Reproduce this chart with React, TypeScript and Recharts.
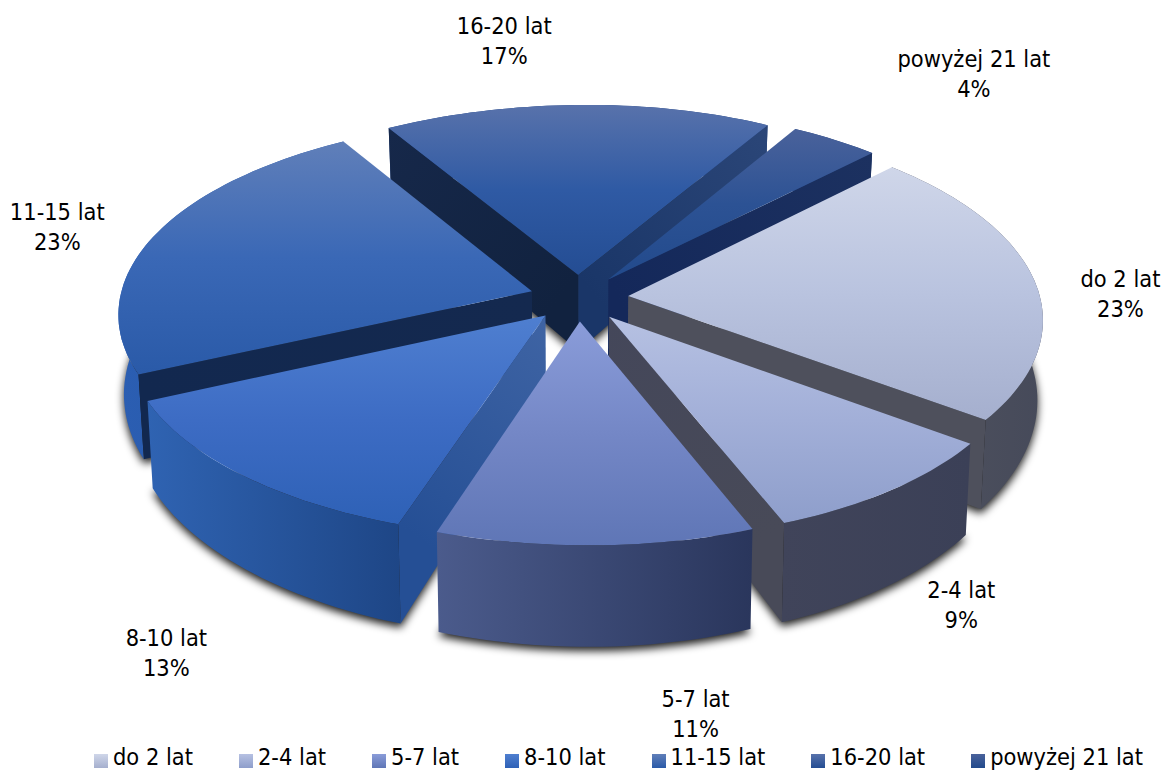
import { Legend, Pie, PieChart } from 'recharts'

const categories = ['do 2 lat', '2-4 lat', '5-7 lat', '8-10 lat', '11-15 lat', '16-20 lat', 'powyżej 21 lat']
const shares = [23, 9, 11, 13, 23, 17, 4]

// slice colours: top face (light, middle, dark), outer wall (left, right)
const topLight = ['#cfd6e9', '#b6c1e2', '#8a9cd9', '#4f7fd0', '#607fb9', '#5872ab', '#4a629b']
const topMiddle = ['#b9c3df', '#a2afd8', '#7487c6', '#3d6cc4', '#3a68b6', '#2f5aa4', '#2c5294']
const topDark = ['#a5afce', '#8e9ecb', '#5f76b6', '#2e61b6', '#2a5aa8', '#244d93', '#224a8c']
const wallLeft = ['#50535f', '#40445a', '#4b5b8c', '#2f63b2', '#2b5eb2', '#24488a', '#22427e']
const wallRight = ['#464a5a', '#3b4057', '#2a365c', '#1e4686', '#2657a8', '#1f3f7c', '#1e3a70']
// cut faces: colour at the rim and at the centre of the pie
const cutStartRim = ['#4e505c', '#3f4358', '#414f7c', '#254f95', '#12284f', '#16284a', '#1e3a70']
const cutStartCore = ['#4e505c', '#3f4358', '#414f7c', '#3f64a4', '#14294f', '#11223f', '#1e3a70']
const cutEndRim = ['#4e505c', '#484a58', '#33416b', '#2f5ea6', '#12284f', '#2b4678', '#1c3160']
const cutEndCore = ['#4e505c', '#44475a', '#33416b', '#2f5ea6', '#12284f', '#1a3668', '#14285a']

// paint order, farthest slice first
const paintOrder = [5, 6, 4, 0, 3, 1, 2]

// label centre relative to the slice's rim midpoint
const labelNudges = [[86, 12], [70, 114], [99, 168], [-75, 177], [-96, -11], [-76, -65], [139, -67]]

const pieData = categories.map((name, i) => ({ name, value: shares[i] }))

const FONT = '"DejaVu Sans Condensed", "DejaVu Sans", sans-serif'
const TILT = 0.47
const PERSPECTIVE = 0.11
const EXPLODE = 0.12
const DEPTH = 78
const BEND = 6
const RAD = Math.PI / 180

// position on the disc (z = 0 top face, z = 1 bottom face) to screen
function project(p: any, u: number, v: number, z: number) {
  const f = 1 / (1 - PERSPECTIVE * v)
  return {
    x: p.cx + p.outerRadius * u * f * (1 - 0.012 * z) + BEND * Math.abs(v * v * v),
    y: p.cy + p.outerRadius * TILT * v * f + DEPTH * z * f * f,
  }
}

function rimPoint(p: any, angle: number, radius: number, z: number) {
  const mid = p.midAngle * RAD
  const u = radius * Math.cos(angle * RAD) + EXPLODE * Math.cos(mid)
  const v = -radius * Math.sin(angle * RAD) - EXPLODE * Math.sin(mid)
  return project(p, u, v, z)
}

function arcPoints(p: any, z: number) {
  const steps = Math.max(4, Math.ceil(Math.abs(p.startAngle - p.endAngle) / 1.5))
  const pts = []
  for (let i = 0; i <= steps; i++) {
    pts.push(rimPoint(p, p.startAngle + ((p.endAngle - p.startAngle) * i) / steps, 1, z))
  }
  return pts
}

const toPath = (pts: { x: number; y: number }[]) =>
  pts.map((q, i) => `${i ? 'L' : 'M'}${q.x.toFixed(1)} ${q.y.toFixed(1)}`).join(' ') + ' Z'

function CutFace({ p, angle, id, rim, core }: any) {
  const from = rimPoint(p, angle, 0, 0)
  const to = rimPoint(p, angle, 1, 0)
  return (
    <>
      <linearGradient id={id} gradientUnits="userSpaceOnUse" x1={from.x} y1={from.y} x2={to.x} y2={to.y}>
        <stop offset="0" stopColor={core} />
        <stop offset="1" stopColor={rim} />
      </linearGradient>
      <path d={toPath([from, to, rimPoint(p, angle, 1, 1), rimPoint(p, angle, 0, 1)])} fill={`url(#${id})`} />
    </>
  )
}

function Slice3D(p: any) {
  const i = p.index
  const top = arcPoints(p, 0)
  const bottom = arcPoints(p, 1)
  // a cut face shows only when it turns towards the viewer
  const showStart = Math.cos(p.startAngle * RAD) < 0
  const showEnd = Math.cos(p.endAngle * RAD) > 0
  return (
    <g>
      <path d={toPath([...top, ...bottom.reverse()])} fill={`url(#wall${i})`} />
      {showStart && <CutFace p={p} angle={p.startAngle} id={`cutS${i}`} rim={cutStartRim[i]} core={cutStartCore[i]} />}
      {showEnd && <CutFace p={p} angle={p.endAngle} id={`cutE${i}`} rim={cutEndRim[i]} core={cutEndCore[i]} />}
      <path d={toPath([rimPoint(p, 0, 0, 0), ...top])} fill={`url(#top${i})`} />
    </g>
  )
}

// soft shadow of the slice's bottom face, painted under everything
function SliceShadow(p: any) {
  return (
    <path
      d={toPath([rimPoint(p, 0, 0, 1), ...arcPoints(p, 1)])}
      fill="#000"
      fillOpacity={0.9}
      filter="url(#floorBlur)"
      transform="translate(0 4)"
    />
  )
}

function renderLabel(p: any) {
  const [dx, dy] = labelNudges[p.index]
  const rim = rimPoint(p, p.midAngle, 1, 0)
  const x = rim.x + dx
  const y = rim.y + dy
  return (
    <text x={x} y={y} textAnchor="middle" fontFamily={FONT} fontSize={23.4} fill="#000">
      <tspan x={x} dy={-6}>{categories[p.index]}</tspan>
      <tspan x={x} dy={30}>{`${shares[p.index]}%`}</tspan>
    </text>
  )
}

function LegendRow() {
  return (
    <div style={{ display: 'flex', fontFamily: FONT, fontSize: 23.4, lineHeight: '22px', color: '#000', whiteSpace: 'nowrap' }}>
      {categories.map((name, i) => (
        <div key={name} style={{ display: 'flex', alignItems: 'center', marginRight: i < categories.length - 1 ? 46 : 0 }}>
          <span
            style={{
              width: 14,
              height: 14,
              marginRight: 5,
              marginTop: 8,
              background: `linear-gradient(${topLight[i]}, ${topDark[i]})`,
            }}
          />
          {name}
        </div>
      ))}
    </div>
  )
}

export default function App() {
  const pieProps = {
    data: pieData,
    dataKey: 'value',
    nameKey: 'name',
    cx: 579,
    cy: 298,
    outerRadius: 412,
    startAngle: 46,
    endAngle: -314,
    paddingAngle: 0,
    stroke: 'none',
    labelLine: false,
    isAnimationActive: false,
  }
  return (
    <div style={{ position: 'absolute', left: 0, top: 0, width: 1165, height: 771, background: '#fff', overflow: 'hidden' }}>
      <PieChart width={1165} height={771} margin={{ top: 0, right: 0, bottom: 0, left: 0 }}>
        <defs>
          <filter id="floorBlur" x="-10%" y="-10%" width="120%" height="120%">
            <feGaussianBlur stdDeviation="4" />
          </filter>
          {categories.map((name, i) => (
            <linearGradient key={`top${name}`} id={`top${i}`} x1="0" y1="0" x2="0" y2="1">
              <stop offset="0" stopColor={topLight[i]} />
              <stop offset="0.5" stopColor={topMiddle[i]} />
              <stop offset="1" stopColor={topDark[i]} />
            </linearGradient>
          ))}
          {categories.map((name, i) => (
            <linearGradient key={`wall${name}`} id={`wall${i}`} x1="0" y1="0" x2="1" y2="0">
              <stop offset="0" stopColor={wallLeft[i]} />
              <stop offset="1" stopColor={wallRight[i]} />
            </linearGradient>
          ))}
        </defs>
        <Pie {...pieProps} shape={(p: any) => <SliceShadow {...p} />} />
        {paintOrder.map((k) => (
          <Pie
            key={k}
            {...pieProps}
            shape={(p: any) => (p.index === k ? <Slice3D {...p} /> : <g />)}
          />
        ))}
        <Pie {...pieProps} shape={() => <g />} label={renderLabel} />
        <Legend content={<LegendRow />} wrapperStyle={{ left: 94, top: 746, width: 1071, bottom: 'auto' }} />
      </PieChart>
    </div>
  )
}
